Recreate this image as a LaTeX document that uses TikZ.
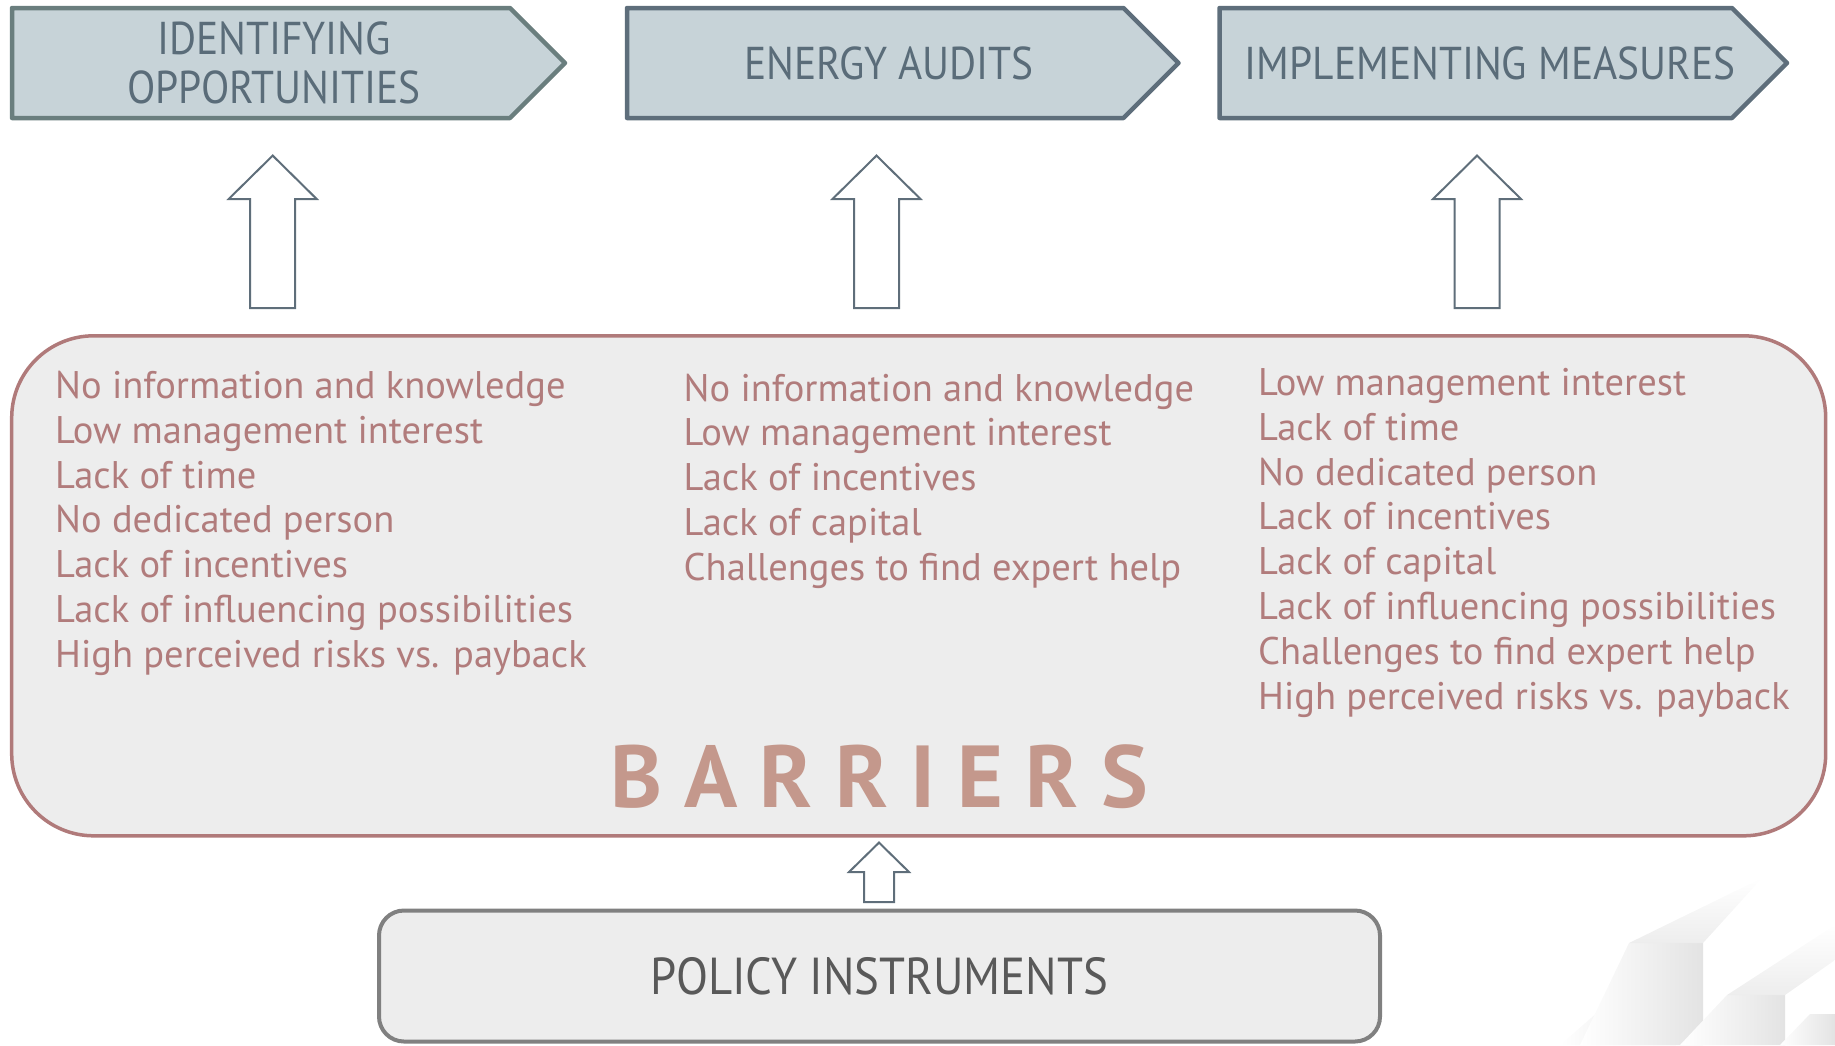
\documentclass[tikz,border=0pt]{standalone}
\usepackage{fontspec}
\setmainfont{PT Sans}
\newfontfamily\headfont[FakeStretch=0.9]{PT Sans}
\usetikzlibrary{positioning}

\definecolor{chevfill}{HTML}{C7D3D8}
\definecolor{chevline}{HTML}{5E6E7B}
\definecolor{chevlinea}{HTML}{6A7E7E}
\definecolor{chevtext}{HTML}{5A6C79}
\definecolor{arrowline}{HTML}{5F6E7A}
\definecolor{barline}{HTML}{B07A7A}
\definecolor{barfill}{HTML}{EDEDED}
\definecolor{bartext}{HTML}{B17C7C}
\definecolor{bigword}{HTML}{C4988C}
\definecolor{polline}{HTML}{808080}
\definecolor{poltext}{HTML}{595959}

\begin{document}
\begin{tikzpicture}[
			x=1pt, y=-1pt,
			chevron/.style={draw=chevline, fill=chevfill, line width=4.5pt, line join=round},
			stagetext/.style={text=chevtext, font=\headfont\fontsize{46}{49}\selectfont, align=center, inner sep=0pt},
			hollow/.style={draw=arrowline, fill=white, line width=2pt},
			barrier/.style={text=bartext, font=\fontsize{38.5}{44.8}\selectfont, align=left, anchor=north west, inner sep=0pt},
			deco/.style={left color=white, right color=gray!22},
			wing/.style={top color=white, bottom color=gray!14}
			]
			\useasboundingbox (0,0) rectangle (1835,1045);
			
			% Corner decoration
			\shade[deco] (1560,1045) -- (1607,1004) -- (1676,1004) -- (1676,1045) -- cycle;
			\shade[wing] (1607,1004) -- (1700,950) -- (1676,1004) -- cycle;
			\shade[deco] (1580,1045) -- (1629,943) -- (1703,943) -- (1703,1045) -- cycle;
			\shade[wing] (1629,943) -- (1762,878) -- (1703,943) -- cycle;
			\shade[deco] (1680,1045) -- (1727,995) -- (1785,995) -- (1785,1045) -- cycle;
			\shade[wing] (1727,995) -- (1835,925) -- (1835,960) -- (1785,995) -- cycle;
			\shade[deco] (1780,1045) -- (1810,1014) -- (1835,1014) -- (1835,1045) -- cycle;
			
			% Stages
			\draw [chevron, draw=chevlinea] (12,8) -- (510,8) -- (565,63) -- (510,118) -- (12,118) -- cycle;
			\draw [chevron] (627,8) -- (1123.5,8) -- (1178.5,63) -- (1123.5,118) -- (627,118) -- cycle;
			\draw [chevron] (1219.5,8) -- (1732,8) -- (1787,63) -- (1732,118) -- (1219.5,118) -- cycle;
			\node (identify) [stagetext] at (274,63) {IDENTIFYING\\OPPORTUNITIES};
			\node (audits) [stagetext] at (889,63) {ENERGY AUDITS};
			\node (implement) [stagetext] at (1490,63) {IMPLEMENTING MEASURES};
			
			% Arrows up
			\foreach \x in {272.7,876.5,1477}
			\draw [hollow] (\x,155.6) -- (\x+44,199) -- (\x+22.5,199) -- (\x+22.5,308) -- (\x-22.5,308) -- (\x-22.5,199) -- (\x-44,199) -- cycle;
			
			% Barriers
			\node (barbox) [draw=barline, fill=barfill, line width=3.5pt, rounded corners=82pt, minimum width=1814pt, minimum height=500pt, inner sep=0pt] at (918.7,585.8) {};
			\node (colone) [barrier] at (55,371) {No information and knowledge\\Low management interest\\Lack of time\\No dedicated person\\Lack of incentives\\Lack of influencing possibilities\\High perceived risks vs. payback};
			\node (coltwo) [barrier] at (683.5,373.5) {No information and knowledge\\Low management interest\\Lack of incentives\\Lack of capital\\Challenges to find expert help};
			\node (colthree) [barrier] at (1258,368) {Low management interest\\Lack of time\\No dedicated person\\Lack of incentives\\Lack of capital\\Lack of influencing possibilities\\Challenges to find expert help\\High perceived risks vs. payback};
			\node (bartitle) [text=bigword, font=\bfseries\fontsize{88}{88}\selectfont, anchor=base, inner sep=0pt] at (879,807.5) {B A R R I E R S};
			
			% Policy
			\draw [hollow] (879,842.6) -- (909,872) -- (894,872) -- (894,902) -- (864,902) -- (864,872) -- (849,872) -- cycle;
			\node (policy) [draw=polline, fill=barfill, line width=4pt, rounded corners=25pt, minimum width=1001pt, minimum height=131pt, text=poltext, font=\headfont\fontsize{52}{52}\selectfont] at (879.5,976) {POLICY INSTRUMENTS};
			
		\end{tikzpicture}
\end{document}
